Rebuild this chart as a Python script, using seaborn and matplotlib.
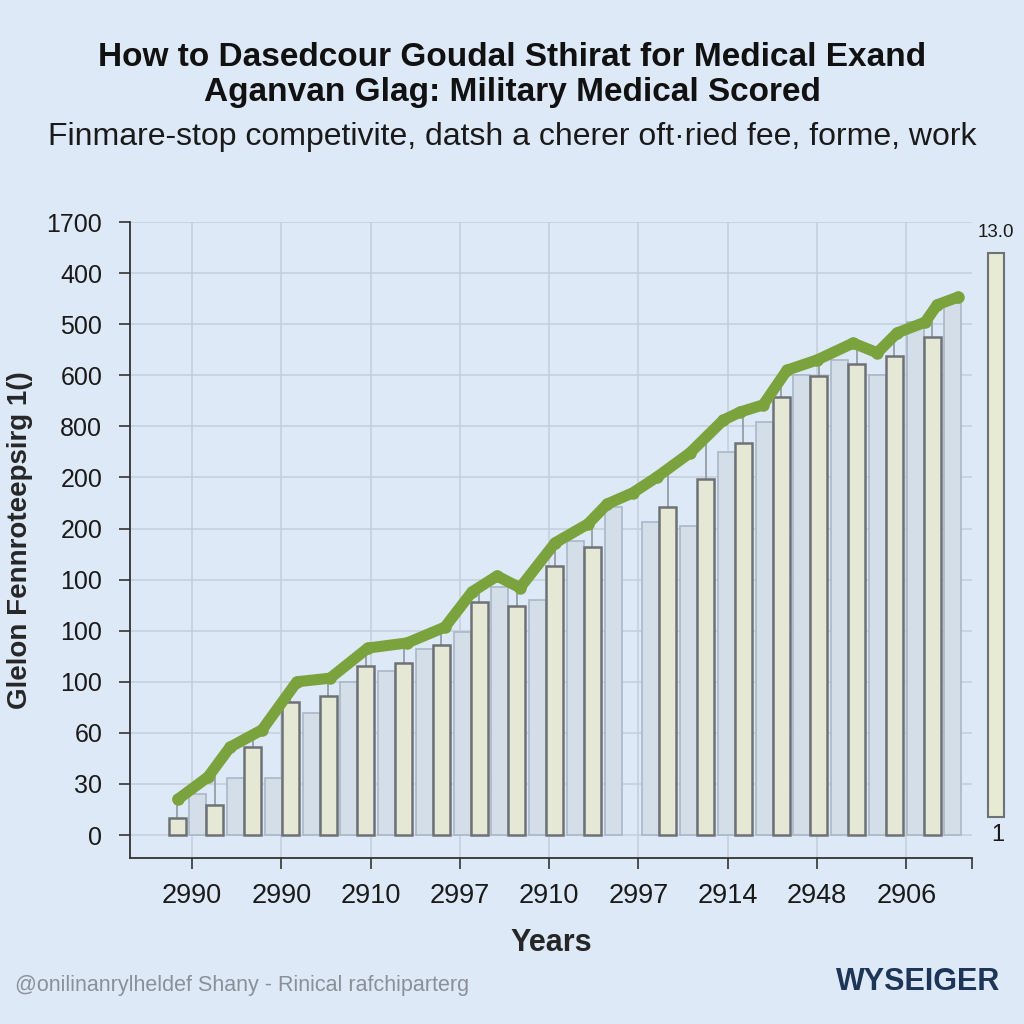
import numpy as np
import pandas as pd
import matplotlib
matplotlib.use("Agg")
import matplotlib.pyplot as plt
import seaborn as sns

# slot index for the grouped bars
slots = list(range(22))
# pale blue (back) series and cream (front) series
blue_vals = [np.nan, 80, 112, 112, 239, 300, 321, 364, 397, 486, 460, 576,
             642, 613, 605, 750, 809, 901, 930, 901, 1004, 1041]
cream_vals = [33, 59, 172, 260, 272, 331, 337, 372, 456, 448, 527, 564,
              np.nan, 642, 697, 767, 857, 899, 922, 938, 975, np.nan]

# green trend line (x in slot units)
line_x = [0.25, 1.05, 1.63, 2.48, 3.40, 4.28, 5.28, 6.32, 7.32, 8.04, 8.70, 9.31,
          10.24, 11.11, 11.62, 12.30, 12.94, 13.81, 14.69, 15.14, 15.75, 16.38,
          17.18, 18.13, 18.77, 19.30, 20.04, 20.36, 20.91]
line_y = [70, 114, 172, 206, 300, 307, 366, 376, 407, 476, 507, 484,
          572, 609, 648, 670, 701, 748, 812, 828, 842, 910,
          930, 963, 944, 983, 1004, 1038, 1053]

ytick_labels = ['0', '30', '60', '100', '100', '100', '200', '200', '800', '600', '500', '400', '1700']
xtick_labels = ['2990', '2990', '2910', '2997', '2910', '2997', '2914', '2948', '2906']

title = "How to Dasedcour Goudal Sthirat for Medical Exand\nAganvan Glag: Military Medical Scored"
subtitle = "Finmare-stop competivite, datsh a cherer oft·ried fee, forme, work"
ylabel = "Glelon Fennroteepsirg 1()"
footer = "@onilinanrylheldef Shany - Rinical rafchiparter\u0261"
brand = "WYSEIGER"
side_top, side_bottom = 13.0, 1

bg = '#dde9f6'
sns.set_theme(style="white")
plt.rcParams['font.family'] = ['Liberation Sans', 'DejaVu Sans']

fig = plt.figure(figsize=(10.24, 10.24), dpi=100, facecolor=bg)
ax = fig.add_axes([130/1024, 166/1024, 842/1024, 636/1024])
ax.set_facecolor(bg)

df = pd.DataFrame({
    'slot': slots * 2,
    'value': blue_vals + cream_vals,
    'series': ['blue'] * len(slots) + ['cream'] * len(slots),
})
sns.barplot(data=df, x='slot', y='value', hue='series', dodge=True, width=0.9,
            palette={'blue': '#cfdeec', 'cream': '#e6ebd2'}, legend=False,
            linewidth=1.6, ax=ax, zorder=2)
for patch in ax.containers[0]:
    patch.set_edgecolor('#a9b7c6')
    patch.set_linewidth(1.2)
for patch in ax.containers[1]:
    patch.set_edgecolor('#6e7276')
    patch.set_linewidth(1.8)
    patch.set_zorder(3)

# thin drop lines from the trend line down to the cream bars
for patch in ax.containers[1]:
    h = patch.get_height()
    if np.isnan(h):
        continue
    xc = patch.get_x() + patch.get_width() / 2
    yl = np.interp(xc, line_x, line_y)
    if yl > h:
        ax.vlines(xc, h, yl, color='#8e98a2', lw=1.2, zorder=2.5)

sns.lineplot(x=line_x, y=line_y, ax=ax, color='#7aa33e', lw=8, marker='o',
             markersize=9, markeredgewidth=0, solid_joinstyle='round',
             solid_capstyle='round', zorder=5)

ax.set_xlim(-1.02, 21.28)
ax.set_ylim(-45, 1200)
ax.set_yticks(np.arange(0, 1201, 100))
ax.set_yticklabels(ytick_labels, fontsize=18, color='#1a1a1a')
ax.set_xticks(np.linspace(0.62, 19.54, 9))
ax.set_xticklabels(xtick_labels, fontsize=19.5, color='#1a1a1a')
ax.set_xticks([21.28], minor=True)
ax.tick_params(axis='both', which='both', direction='out', length=8, width=1.2,
               color='#333333', left=True, bottom=True)
ax.tick_params(axis='y', pad=12)
ax.tick_params(axis='x', pad=10)
ax.grid(True, color='#c3ceda', lw=1.1)
ax.set_axisbelow(True)
for s in ['top', 'right']:
    ax.spines[s].set_visible(False)
for s in ['left', 'bottom']:
    ax.spines[s].set_color('#333333')
    ax.spines[s].set_linewidth(1.3)

ax.set_xlabel('Years', fontsize=22, fontweight='bold', labelpad=14)
ax.set_ylabel(ylabel, fontsize=20, fontweight='bold', labelpad=10)

# side bar outside the main axes
sax = fig.add_axes([985/1024, 166/1024, 22/1024, 636/1024])
sax.set_xlim(-0.5, 0.5)
sax.set_ylim(0.128, 13.66)
sax.bar([0], [side_top - side_bottom], bottom=side_bottom, width=0.75,
        color='#e6ebd2', edgecolor='#6e7276', linewidth=1.5)
sax.text(0.0, side_top + 0.25, f'{side_top:.1f}', ha='center', va='bottom',
         fontsize=13.5, color='#1a1a1a')
sax.text(0.1, side_bottom - 0.15, f'{side_bottom}', ha='center', va='top',
         fontsize=17, color='#1a1a1a')
sax.axis('off')

fig.text(0.5, 1 - 75/1024, title, ha='center', va='center', fontsize=24,
         fontweight='bold', linespacing=1.2, color='#111111')
fig.text(0.5, 1 - 137/1024, subtitle, ha='center', va='center', fontsize=23,
         color='#1a1a1a')
fig.text(15/1024, 1 - 985/1024, footer, ha='left', va='center', fontsize=15.5,
         color='#8a9099')
fig.text(1000/1024, 1 - 982/1024, brand, ha='right', va='center', fontsize=22,
         fontweight='bold', color='#1d3557')

fig.savefig('out.png', dpi=100, facecolor=bg)
